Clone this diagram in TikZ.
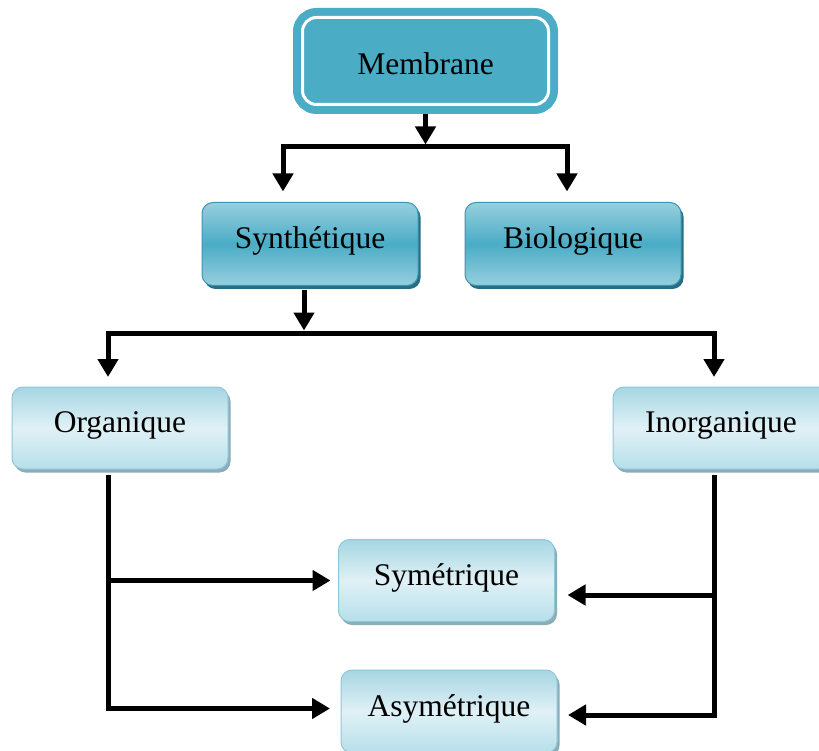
\documentclass[tikz,border=0pt]{standalone}
\usepackage{fontspec}
\setmainfont{Liberation Serif}
\usetikzlibrary{arrows.meta,shadows}
\definecolor{cA}{RGB}{75,172,198}
\definecolor{cAborder}{RGB}{60,150,178}
\definecolor{cAlight}{RGB}{150,207,222}
\definecolor{cAshadow}{RGB}{40,110,130}
\definecolor{cBtop}{RGB}{166,214,227}
\definecolor{cBmid}{RGB}{224,241,246}
\definecolor{cBbot}{RGB}{182,223,234}
\definecolor{cBborder}{RGB}{140,200,218}
\definecolor{cBshadow}{RGB}{140,172,182}
\begin{document}
\begin{tikzpicture}[x=1pt,y=-1pt,
  lbl/.style={font=\fontsize{31.5}{36}\selectfont, inner sep=0pt, outer sep=0pt},
  memb/.style={lbl, draw=cA, line width=8pt, double=white, double distance=3pt,
    fill=cA, rounded corners=14pt, minimum width=246pt, minimum height=87pt,
    text height=27pt, text depth=0pt},
  midbox/.style={lbl, draw=cAborder, line width=1pt, rounded corners=11pt,
    top color=cAlight, bottom color=cAlight, middle color=cA,
    minimum width=216pt, minimum height=83pt, text height=15pt, text depth=6pt,
    drop shadow={shadow xshift=2.5pt, shadow yshift=-3.5pt, fill=cAshadow, opacity=1}},
  lowbox/.style={lbl, draw=cBborder, line width=1pt, rounded corners=11pt,
    top color=cBtop, bottom color=cBbot, middle color=cBmid,
    minimum width=216pt, minimum height=82pt, text height=15pt, text depth=6pt,
    drop shadow={shadow xshift=2.5pt, shadow yshift=-3.5pt, fill=cBshadow, opacity=1}},
  lin/.style={line width=5pt, line join=miter, black},
  arr/.style={lin, -{Triangle[width=20pt,length=18pt]}}]
\useasboundingbox[fill=white] (0,0) rectangle (819,751);

\node[memb] (mem) at (425.5,61) {Membrane};
\node[midbox] (syn) at (310,244) {Synthétique};
\node[midbox] (bio) at (573,244) {Biologique};
\node[lowbox] (org) at (120,428) {Organique};
\node[lowbox] (inorg) at (721,428) {Inorganique};
\node[lowbox] (sym) at (446.5,580.5) {Symétrique};
\node[lowbox, minimum height=83pt] (asy) at (449,711.5) {Asymétrique};

\coordinate (j1) at (425.5,147);
\coordinate (l1) at (283,147);
\coordinate (r1) at (567,147);
\coordinate (j2) at (304,333);
\coordinate (l2) at (108,333);
\coordinate (r2) at (714,333);
\coordinate (se) at ([yshift=-14.5pt]sym.east);
\coordinate (ae) at ([yshift=-3.5pt]asy.east);
\coordinate (aw) at ([yshift=3pt]asy.west);

\draw[arr, shorten <=9.5pt, shorten >=2.5pt] (mem.south) -- (j1);
\draw[arr, shorten >=11pt] (j1) -| (l1 |- syn.north);
\draw[arr, shorten >=11pt] (j1) -| (r1 |- bio.north);

\draw[arr, shorten <=4.5pt, shorten >=2.5pt] (syn.south -| j2) -- (j2);
\draw[arr, shorten >=10pt] (j2) -| (l2 |- org.north);
\draw[arr, shorten >=10pt] (j2) -| (r2 |- inorg.north);

\draw[arr, shorten <=6pt, shorten >=11pt] (org.south -| l2) |- (aw);
\draw[arr, shorten >=8pt] (l2 |- sym.west) -- (sym.west);
\draw[arr, shorten <=6pt, shorten >=11pt] (inorg.south -| r2) |- (ae);
\draw[arr, shorten >=13pt] (r2 |- se) -- (se);
\end{tikzpicture}
\end{document}
